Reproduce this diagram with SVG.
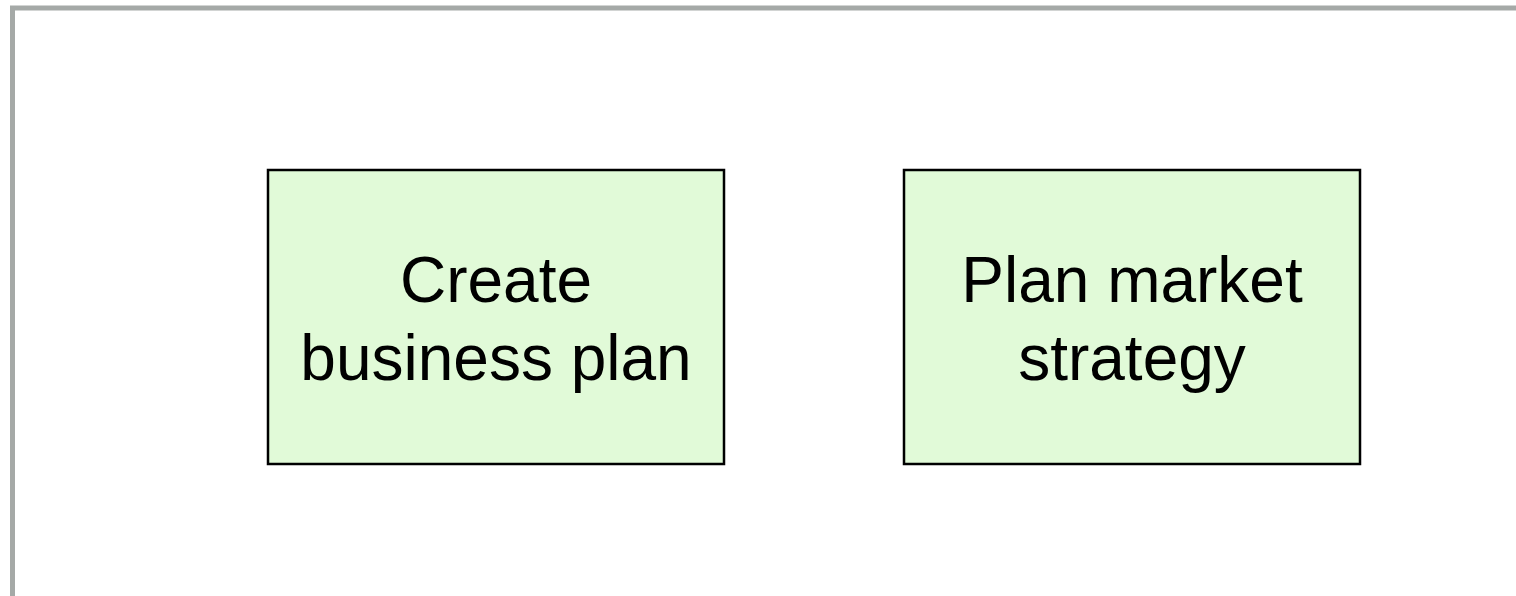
<svg xmlns="http://www.w3.org/2000/svg" width="1516" height="596" viewBox="0 0 1516 596">
<style>
.frame{fill:none;stroke:#A5A9A7;stroke-width:5}
.box{fill:#E1FAD8;stroke:#000;stroke-width:2.5}
.lbl{font-family:"Liberation Sans",Arial,Helvetica,sans-serif;font-size:64px;fill:#000;text-anchor:middle}
</style>
<rect width="1516" height="596" fill="#fff"/>
<rect class="frame" x="12.5" y="8" width="1520" height="600"/>
<g id="connectors"></g>
<g id="node-create-business-plan">
<rect class="box" x="268" y="170" width="456" height="294"/>
<text class="lbl" x="496" y="302">Create</text>
<text class="lbl" x="496" y="380">business plan</text>
</g>
<g id="node-plan-market-strategy">
<rect class="box" x="904" y="170" width="456" height="294"/>
<text class="lbl" x="1132" y="302">Plan market</text>
<text class="lbl" x="1132" y="380">strategy</text>
</g>
</svg>
